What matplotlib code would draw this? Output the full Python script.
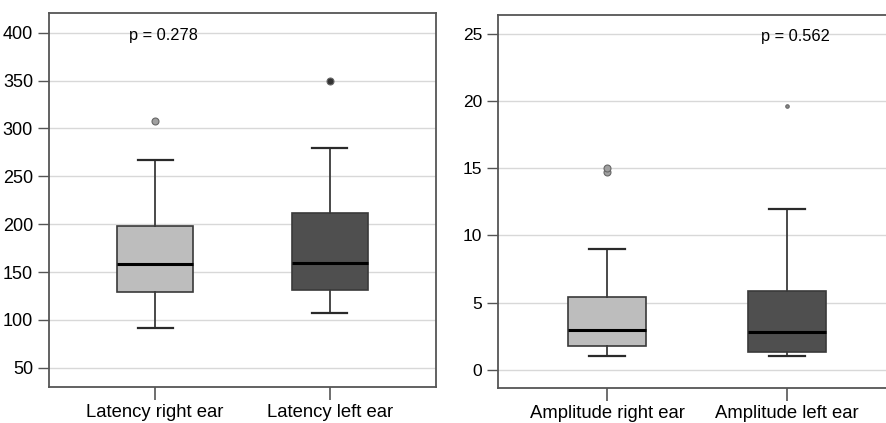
import matplotlib.pyplot as plt

plt.rcParams['font.family'] = ['Liberation Sans', 'DejaVu Sans']

# Latency (left panel)
lat_labels = ['Latency right ear', 'Latency left ear']
lat_low = [92, 107]
lat_q1 = [129, 131]
lat_med = [158, 159]
lat_q3 = [198, 212]
lat_high = [267, 280]
lat_fliers = [[308], [350]]
lat_p = 'p = 0.278'

# Amplitude (right panel)
amp_labels = ['Amplitude right ear', 'Amplitude left ear']
amp_low = [1.0, 1.0]
amp_q1 = [1.8, 1.3]
amp_med = [3.0, 2.8]
amp_q3 = [5.4, 5.9]
amp_high = [9.0, 12.0]
amp_fliers = [[14.7, 15.0], [19.6]]
amp_p = 'p = 0.562'

box_colors = ['#bdbdbd', '#4f4f4f']


def make_stats(low, q1, med, q3, high, fliers):
    stats = []
    for i in range(len(med)):
        stats.append(dict(whislo=low[i], q1=q1[i], med=med[i], q3=q3[i],
                          whishi=high[i], fliers=fliers[i]))
    return stats


def draw_panel(ax, stats, labels, ylim, yticks, ptext, pxy, fstyles, ysize):
    for i, st in enumerate(stats):
        fc, ms = fstyles[i]
        ax.bxp([st], positions=[i + 1], widths=0.43, patch_artist=True,
               boxprops=dict(facecolor=box_colors[i], edgecolor='#3a3a3a', linewidth=1.2),
               medianprops=dict(color='black', linewidth=2.2),
               whiskerprops=dict(color='#3a3a3a', linewidth=1.3),
               capprops=dict(color='#2a2a2a', linewidth=1.6),
               capwidths=0.2,
               flierprops=dict(marker='o', markersize=ms, markerfacecolor=fc,
                               markeredgecolor='#666666', markeredgewidth=0.8))
    ax.set_xlim(0.394, 2.606)
    ax.set_ylim(*ylim)
    ax.set_yticks(yticks)
    ax.set_xticks([1, 2])
    ax.set_xticklabels(labels, fontsize=13.3)
    ax.tick_params(axis='y', labelsize=ysize, length=8, color='#555555', width=1)
    ax.tick_params(axis='x', length=9, color='#555555', width=1.2, pad=3)
    ax.yaxis.grid(True, color='#d8d8d8', linewidth=1)
    ax.set_axisbelow(True)
    for s in ax.spines.values():
        s.set_color('#555555')
        s.set_linewidth(1.3)
    ax.text(pxy[0], pxy[1], ptext, ha='center', va='center', fontsize=11.8)


fig = plt.figure(figsize=(8.86, 4.23), dpi=100)
ax1 = fig.add_axes([49 / 886, 36 / 423, 387 / 886, 374 / 423])
ax2 = fig.add_axes([498 / 886, 35 / 423, 398 / 886, 373 / 423])

draw_panel(ax1, make_stats(lat_low, lat_q1, lat_med, lat_q3, lat_high, lat_fliers),
           lat_labels, (30, 420.5), [50, 100, 150, 200, 250, 300, 350, 400], lat_p, (1.046, 396.5),
           [('#a0a0a0', 5), ('#333333', 5)], 13)
draw_panel(ax2, make_stats(amp_low, amp_q1, amp_med, amp_q3, amp_high, amp_fliers),
           amp_labels, (-1.35, 26.4), [0, 5, 10, 15, 20, 25], amp_p, (2.045, 24.8),
           [('#a0a0a0', 5), ('#888888', 2.5)], 12.5)

fig.savefig('out.png', dpi=100)
